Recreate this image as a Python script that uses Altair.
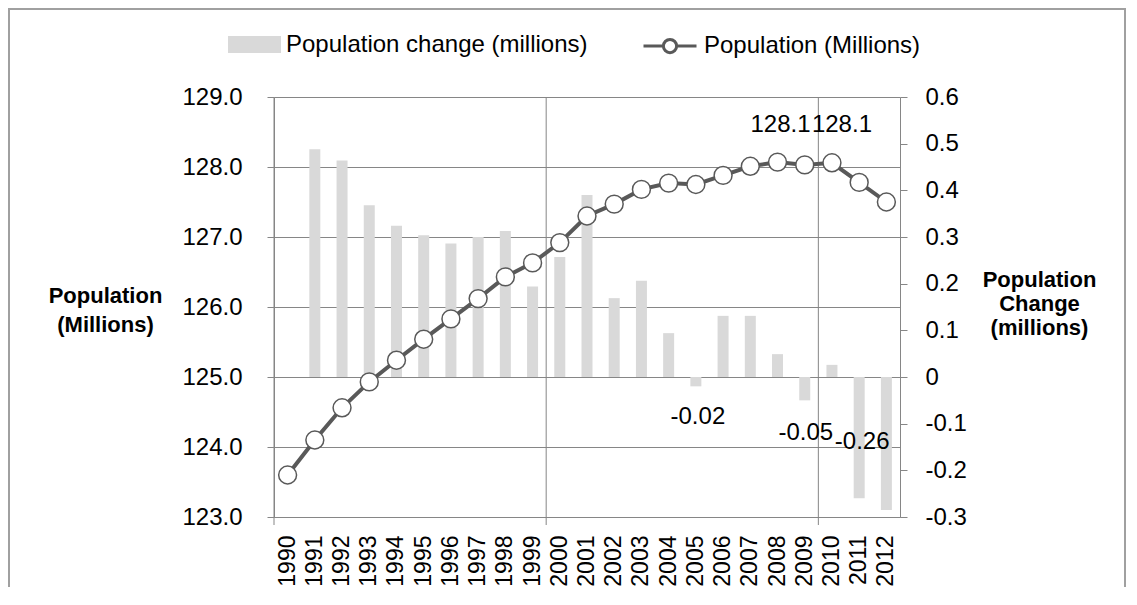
import altair as alt
import pandas as pd

years = ["1990", "1991", "1992", "1993", "1994", "1995", "1996", "1997", "1998", "1999",
         "2000", "2001", "2002", "2003", "2004", "2005", "2006", "2007", "2008", "2009",
         "2010", "2011", "2012"]
population = [123.6, 124.1, 124.56, 124.93, 125.24, 125.54, 125.83, 126.12, 126.43, 126.63,
              126.92, 127.3, 127.47, 127.68, 127.77, 127.75, 127.88, 128.01, 128.07, 128.03,
              128.06, 127.78, 127.5]
change = [None, 0.488, 0.464, 0.368, 0.324, 0.304, 0.286, 0.3, 0.313, 0.194,
          0.257, 0.39, 0.169, 0.206, 0.094, -0.02, 0.131, 0.131, 0.049, -0.05,
          0.026, -0.26, -0.285]
left_ticks = [123, 124, 125, 126, 127, 128, 129]
right_ticks = [-0.3, -0.2, -0.1, 0, 0.1, 0.2, 0.3, 0.4, 0.5, 0.6]
bar_series = "Population change (millions)"
line_series = "Population (Millions)"
grid_years = ["1990", "2000", "2010"]

df = pd.DataFrame({"year": years, "pop": population, "change": change,
                   "bar_series": bar_series, "line_series": line_series})
grid_df = pd.DataFrame({"year": grid_years})

FONT = "Liberation Sans"
GRID = "#868686"
LINE = "#595959"
BAR = "#d9d9d9"

x_axis = alt.Axis(title=None, labelAngle=-90, labelFontSize=23, labelPadding=18, ticks=False,
                  domainColor=GRID, grid=False, labelColor="black", labelFont=FONT)
x_scale = alt.Scale(domain=years, paddingInner=0, paddingOuter=0)
x_enc = alt.X("year:N", scale=x_scale, axis=x_axis)

left_axis = alt.Axis(orient="left", values=left_ticks, format=".1f", grid=True, gridColor=GRID,
                     domainColor=GRID, tickColor=GRID, tickSize=7, labelFontSize=24,
                     labelFont=FONT, labelColor="black", labelPadding=25,
                     title=["Population", "(Millions)"], titleFont=FONT, titleFontSize=22,
                     titleFontWeight="bold", titleColor="black", titleAngle=0, titleX=-169,
                     titleY=198, titleAlign="center", titleBaseline="middle", titleLineHeight=29)
right_axis = alt.Axis(orient="right", values=right_ticks,
                      labelExpr="datum.value == 0 ? '0' : replace(format(datum.value, '.1f'), '\u2212', '-')",
                      grid=False, domainColor=GRID, tickColor=GRID, tickSize=7, labelFontSize=24,
                      labelFont=FONT, labelColor="black", labelPadding=18,
                      title=["Population", "Change", "(millions)"], titleFont=FONT,
                      titleFontSize=22, titleFontWeight="bold", titleColor="black", titleAngle=0,
                      titleX=139, titleY=182, titleAlign="center", titleBaseline="middle",
                      titleLineHeight=24)

y_change = alt.Y("change:Q", scale=alt.Scale(domain=[-0.3, 0.6], nice=False, zero=False),
                 axis=right_axis)
y_pop = alt.Y("pop:Q", scale=alt.Scale(domain=[123, 129], nice=False, zero=False),
              axis=left_axis)

legend_common = dict(orient="none", title=None, labelFontSize=24, labelFont=FONT,
                     labelColor="black", labelLimit=600, padding=0, symbolSize=2809)

vrules = alt.Chart(grid_df).mark_rule(color=GRID, strokeWidth=1).encode(
    x=alt.X("year:N", scale=x_scale, axis=x_axis, bandPosition=0),
    y=alt.value(0), y2=alt.value(428))

bars = alt.Chart(df).mark_bar(size=11).encode(
    x=x_enc, y=y_change,
    color=alt.Color("bar_series:N", scale=alt.Scale(domain=[bar_series], range=[BAR]),
                    legend=alt.Legend(legendX=-46, legendY=-79,
                                      symbolType="M-1,-0.32H1V0.32H-1Z", symbolStrokeWidth=0,
                                      labelOffset=5, **legend_common)))

bar_labels = []
for yr, dx, dy in [("2005", 2, 31), ("2009", 1, 33), ("2011", 3, -56)]:
    bar_labels.append(
        alt.Chart(df).transform_filter(alt.datum.year == yr).transform_calculate(
            lbl="replace(format(datum.change, '.2f'), '\u2212', '-')").mark_text(
            font=FONT, fontSize=24, color="black", dx=dx, dy=dy, align="center",
            baseline="middle").encode(x=x_enc, y=y_change, text="lbl:N"))

bar_layer = alt.layer(vrules, bars, *bar_labels)

line = alt.Chart(df).mark_line(strokeWidth=4).encode(
    x=x_enc, y=y_pop,
    stroke=alt.Stroke("line_series:N", scale=alt.Scale(domain=[line_series], range=[LINE]),
                      legend=alt.Legend(legendX=368, legendY=-79,
                                        symbolType="M-1,0H-0.25M0.25,0H1M0.25,0A0.25,0.25,0,1,1,-0.25,0A0.25,0.25,0,1,1,0.25,0",
                                        symbolStrokeWidth=3, symbolFillColor="white",
                                        symbolStrokeColor=LINE, labelOffset=6,
                                        **legend_common)))
points = alt.Chart(df).mark_point(filled=True, fill="white", stroke=LINE, strokeWidth=1.5,
                                  size=320, opacity=1).encode(x=x_enc, y=y_pop)

line_labels = []
for yr, dx, dy in [("2008", 3, -37), ("2010", 10, -38)]:
    line_labels.append(
        alt.Chart(df).transform_filter(alt.datum.year == yr).mark_text(
            font=FONT, fontSize=24, color="black", dx=dx, dy=dy, align="center",
            baseline="middle").encode(x=x_enc, y=y_pop,
                                      text=alt.Text("pop:Q", format=".1f")))

line_layer = alt.layer(line, points, *line_labels)

border = alt.Chart(pd.DataFrame({"k": [0]})).mark_rect(
    filled=False, stroke="#a0a0a0", strokeWidth=2).encode(
    x=alt.value(-265), x2=alt.value(851), y=alt.value(-88), y2=alt.value(620))

chart = alt.layer(border, bar_layer, line_layer).resolve_scale(y="independent").properties(
    width=626, height=420,
    padding={"left": 266, "top": 89, "right": 227, "bottom": 70},
    autosize=alt.AutoSizeParams(type="none"),
).configure(font=FONT).configure_view(stroke=None)

chart.save("out.html", embed_options={"renderer": "svg", "actions": False})
